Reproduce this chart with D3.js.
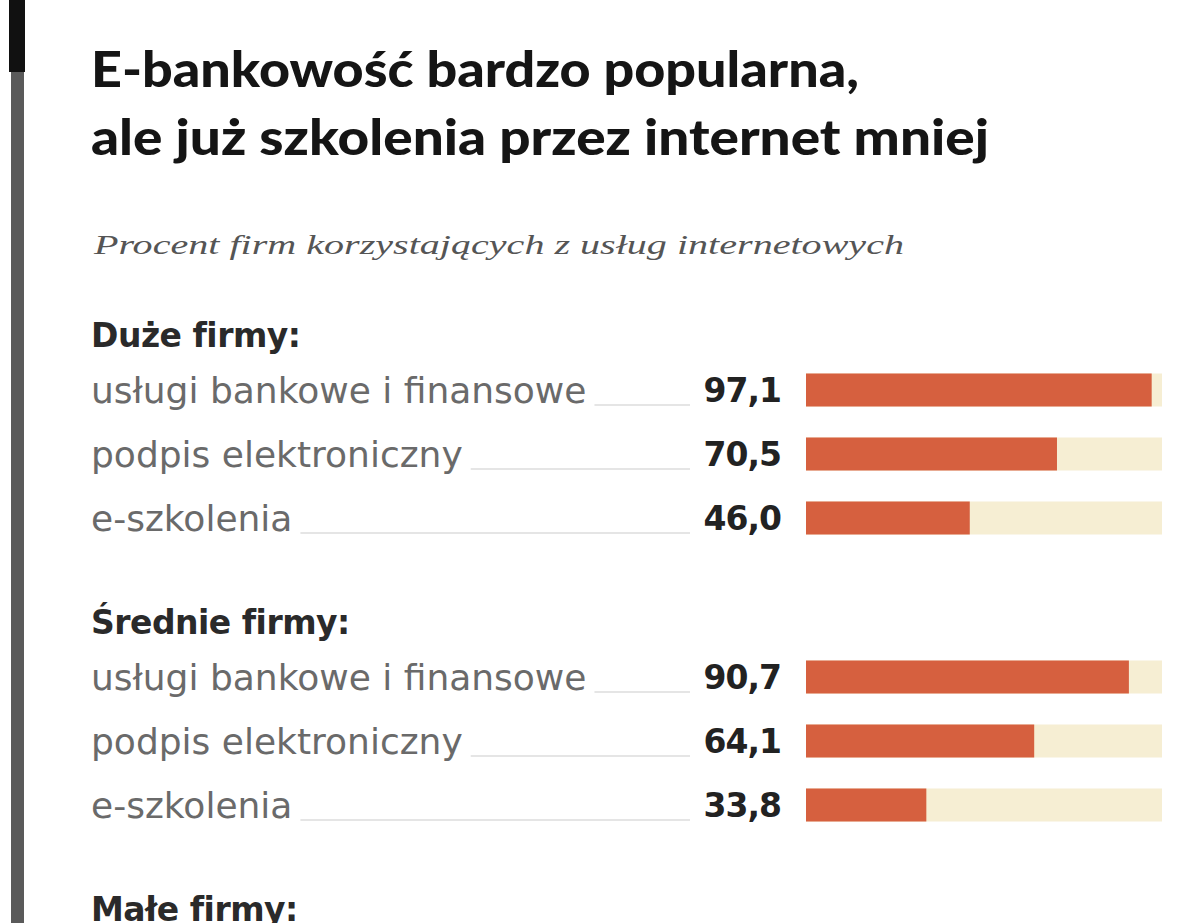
<!DOCTYPE html>
<html>
<head>
<meta charset="utf-8">
<script src="https://cdn.jsdelivr.net/npm/d3@7"></script>
<style>
  html, body { margin: 0; padding: 0; background: #fff; }
  svg { display: block; }
</style>
</head>
<body>
<div id="chart"></div>
<script>
// --- data
const groups = ['Duże firmy:', 'Średnie firmy:', 'Małe firmy:'];
const services = ['usługi bankowe i finansowe', 'podpis elektroniczny', 'e-szkolenia'];
const largeValues = [97.1, 70.5, 46.0];
const mediumValues = [90.7, 64.1, 33.8];
const smallValues = []; // rows fall below the bottom edge of the picture
const groupValues = [largeValues, mediumValues, smallValues];

const titleLines = ['E-bankowość bardzo popularna,', 'ale już szkolenia przez internet mniej'];
const titleWidths = [768, 898];
const subtitle = 'Procent firm korzystających z usług internetowych';

const svgWidth = 1200, svgHeight = 923;
const svg = d3.select('#chart').append('svg')
  .attr('width', svgWidth)
  .attr('height', svgHeight);

// left rule
svg.append('rect').attr('x', 11).attr('y', 0).attr('width', 13).attr('height', svgHeight).attr('fill', '#5a5a5a');
svg.append('rect').attr('x', 9).attr('y', 0).attr('width', 16).attr('height', 72).attr('fill', '#111');

// title
svg.selectAll('text.title')
  .data(titleLines)
  .enter()
  .append('text')
  .attr('class', 'title')
  .attr('x', 91)
  .attr('y', (d, i) => 87 + i * 68)
  .attr('font-family', 'Lato, "DejaVu Sans", sans-serif')
  .attr('font-weight', 900)
  .attr('font-size', 50)
  .attr('textLength', (d, i) => titleWidths[i])
  .attr('lengthAdjust', 'spacingAndGlyphs')
  .attr('fill', '#151515')
  .text(d => d);

svg.append('text')
  .attr('x', 94)
  .attr('y', 254)
  .attr('font-family', '"Liberation Serif", serif')
  .attr('font-style', 'italic')
  .attr('font-size', 28)
  .attr('textLength', 810)
  .attr('lengthAdjust', 'spacingAndGlyphs')
  .attr('fill', '#555')
  .text(subtitle);

// scales
const x = d3.scaleLinear().domain([0, 100]).range([806, 1162]);
const groupY = d3.scaleLinear().domain([0, 1]).range([335, 622]);
const rowY = d3.scaleLinear().domain([0, 1]).range([55, 119]);
const barH = 33;

groups.forEach((gName, gi) => {
  const gy = groupY(gi);
  const g = svg.append('g');

  g.append('text')
    .attr('x', 91)
    .attr('y', gy + 12)
    .attr('font-family', '"DejaVu Sans", sans-serif')
    .attr('font-weight', 700)
    .attr('font-size', 33)
    .attr('letter-spacing', -0.5)
    .attr('fill', '#2a2a2a')
    .text(gName);

  const vals = groupValues[gi];
  vals.forEach((v, si) => {
    const cy = gy + rowY(si);
    const label = g.append('text')
      .attr('x', 91)
      .attr('y', cy + 13)
      .attr('font-family', '"DejaVu Sans", sans-serif')
      .attr('font-size', 36)
      .attr('fill', '#6a6a6a')
      .text(services[si]);
    const tw = label.node().getComputedTextLength();

    // leader line
    g.append('line')
      .attr('x1', 91 + tw + 8)
      .attr('x2', 690)
      .attr('y1', cy + 15)
      .attr('y2', cy + 15)
      .attr('stroke', '#ddd')
      .attr('stroke-width', 1.5);

    g.append('text')
      .attr('x', 781)
      .attr('y', cy + 12)
      .attr('text-anchor', 'end')
      .attr('font-family', '"DejaVu Sans", sans-serif')
      .attr('font-weight', 700)
      .attr('font-size', 33)
      .attr('letter-spacing', -1)
      .attr('fill', '#222')
      .text(d3.format('.1f')(v).replace('.', ','));

    g.append('rect')
      .attr('x', x(0))
      .attr('y', cy - barH / 2)
      .attr('width', x(100) - x(0))
      .attr('height', barH)
      .attr('fill', '#f6eed3');

    g.append('rect')
      .attr('x', x(0))
      .attr('y', cy - barH / 2)
      .attr('width', x(v) - x(0))
      .attr('height', barH)
      .attr('fill', '#d6603f');
  });
});
</script>
</body>
</html>
